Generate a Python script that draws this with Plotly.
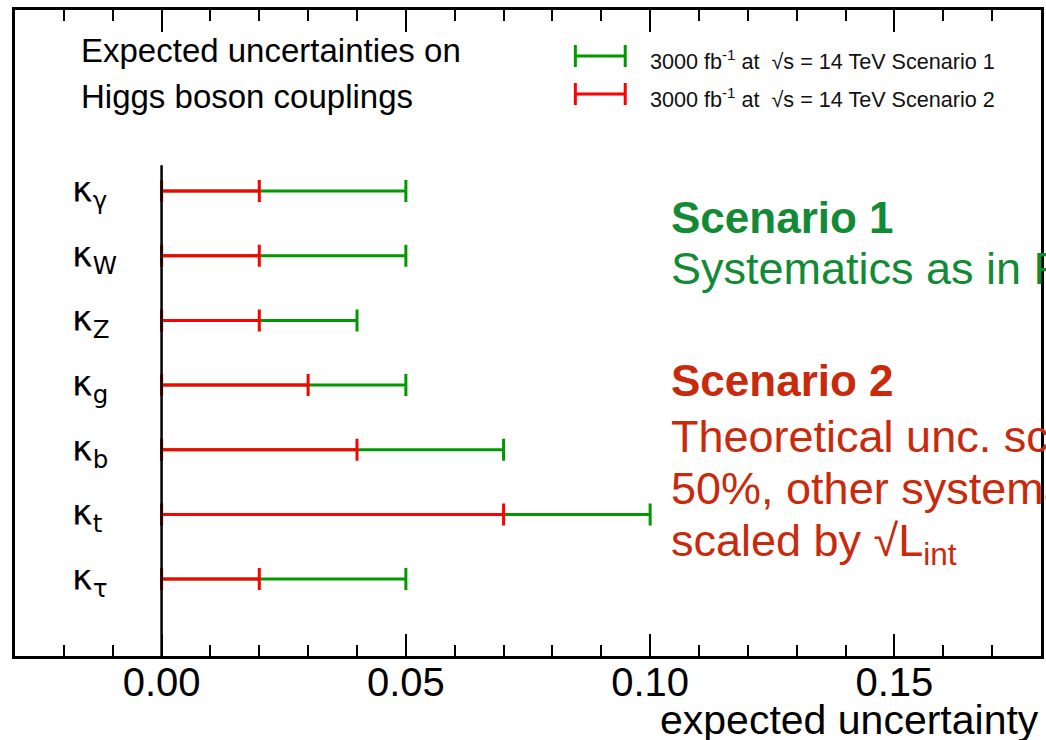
import plotly.graph_objects as go

# Couplings, listed top to bottom
couplings = ["κ<sub>γ</sub>", "κ<sub>W</sub>", "κ<sub>Z</sub>", "κ<sub>g</sub>",
             "κ<sub>b</sub>", "κ<sub>t</sub>", "κ<sub>τ</sub>"]
keys = ["gamma", "W", "Z", "g", "b", "t", "tau"]
# Expected uncertainty, 3000 fb-1 at 14 TeV
scenario1 = [0.05, 0.05, 0.04, 0.05, 0.07, 0.10, 0.05]
scenario2 = [0.02, 0.02, 0.02, 0.03, 0.04, 0.07, 0.02]
xticks = [0.00, 0.05, 0.10, 0.15]

legend_labels = ["3000 fb<sup>-1</sup> at  √s = 14 TeV Scenario 1",
                 "3000 fb<sup>-1</sup> at  √s = 14 TeV Scenario 2"]

GREEN = "#009a00"
RED = "#ff0000"
TXT_GREEN = "#138a36"
TXT_RED = "#c92a0c"
FONT = "Liberation Sans, Arial, Helvetica, sans-serif"
GREEK = "DejaVu Sans, Liberation Sans, sans-serif"

W, H = 1046, 740
ML, MR, MT, MB = 15, 2, 10, 84
PW, PH = W - ML - MR, H - MT - MB


def px(x):
    return (x - ML) / PW


def py(y):
    return (H - MB - y) / PH


fig = go.Figure()

for vals, col in [(scenario1, GREEN), (scenario2, RED)]:
    fig.add_trace(go.Scatter(
        x=[0.0] * len(vals), y=keys, mode="markers",
        marker=dict(size=1, color="rgba(0,0,0,0)"),
        error_x=dict(type="data", symmetric=False, array=vals,
                     arrayminus=[0.0] * len(vals), color=col,
                     thickness=3, width=11),
        hoverinfo="skip", showlegend=False))

shapes = [
    # vertical reference line at zero
    dict(type="line", xref="x", yref="y", x0=0, x1=0, y0=-1.19,
         y1=len(keys) - 0.6, line=dict(color="black", width=2.5),
         layer="above"),
]

annotations = []
# coupling labels
for k, lab in zip(keys, couplings):
    annotations.append(dict(
        x=px(70), xref="paper", y=k, yref="y", xanchor="left",
        yanchor="top", yshift=23, text=lab, showarrow=False,
        font=dict(family=GREEK, size=35, color="black")))

# headline
for txt, top in [("Expected uncertainties on", 30),
                 ("Higgs boson couplings", 76)]:
    annotations.append(dict(
        x=px(79), y=py(top), xref="paper", yref="paper",
        xanchor="left", yanchor="top", text=txt, showarrow=False,
        font=dict(family=FONT, size=33, color="black")))

# legend
for (lab, col, ly, top) in [(legend_labels[0], GREEN, 56, 44),
                            (legend_labels[1], RED, 94, 82)]:
    shapes.append(dict(type="line", xref="paper", yref="paper",
                       x0=px(577), x1=px(627), y0=py(ly), y1=py(ly),
                       line=dict(color=col, width=3)))
    for xe in (577, 627):
        shapes.append(dict(type="line", xref="paper", yref="paper",
                           x0=px(xe), x1=px(xe), y0=py(ly - 11),
                           y1=py(ly + 11), line=dict(color=col, width=3)))
    annotations.append(dict(
        x=px(650), y=py(top), xref="paper", yref="paper",
        xanchor="left", yanchor="top", text=lab, showarrow=False,
        font=dict(family=FONT, size=21.6, color="#111111")))

# scenario descriptions
side = [
    ("<b>Scenario 1</b>", TXT_GREEN, 191, 44),
    ("Systematics as in Run 1", TXT_GREEN, 241, 45),
    ("<b>Scenario 2</b>", TXT_RED, 354, 44),
    ("Theoretical unc. scaled by", TXT_RED, 409, 45),
    ("50%, other systematics", TXT_RED, 461, 45),
    ("scaled by √L<sub>int</sub>", TXT_RED, 513, 45),
]
for txt, col, top, fs in side:
    annotations.append(dict(
        x=px(671), y=py(top), xref="paper", yref="paper",
        xanchor="left", yanchor="top", text=txt, showarrow=False,
        font=dict(family=FONT, size=fs, color=col)))

# axis title
annotations.append(dict(
    x=1.0, y=py(695), xref="paper", yref="paper", xanchor="right",
    yanchor="top", text="expected uncertainty", showarrow=False,
    font=dict(family=FONT, size=41, color="black")))

fig.update_layout(
    width=W, height=H,
    margin=dict(l=ML, r=MR, t=MT, b=MB, pad=0),
    paper_bgcolor="white", plot_bgcolor="white",
    showlegend=False,
    shapes=shapes, annotations=annotations,
    xaxis=dict(range=[-0.03, 0.18], showgrid=False, zeroline=False,
               showline=True, linewidth=3, linecolor="black",
               mirror="ticks", ticks="inside", ticklen=22, tickwidth=1.5,
               tickcolor="black", tickvals=xticks,
               ticktext=[f"{v:.2f}" for v in xticks],
               ticklabelstandoff=-11,
               tickfont=dict(family=FONT, size=40, color="black"),
               minor=dict(dtick=0.01, tick0=0, ticks="inside", ticklen=11,
                          tickwidth=1.5, tickcolor="black", showgrid=False)),
    yaxis=dict(type="category", categoryorder="array",
               categoryarray=list(reversed(keys)),
               range=[-1.19, 8.80], showgrid=False, zeroline=False,
               showline=True, linewidth=3, linecolor="black", mirror=True,
               showticklabels=False, ticks=""),
)

fig.write_html("out.html")
